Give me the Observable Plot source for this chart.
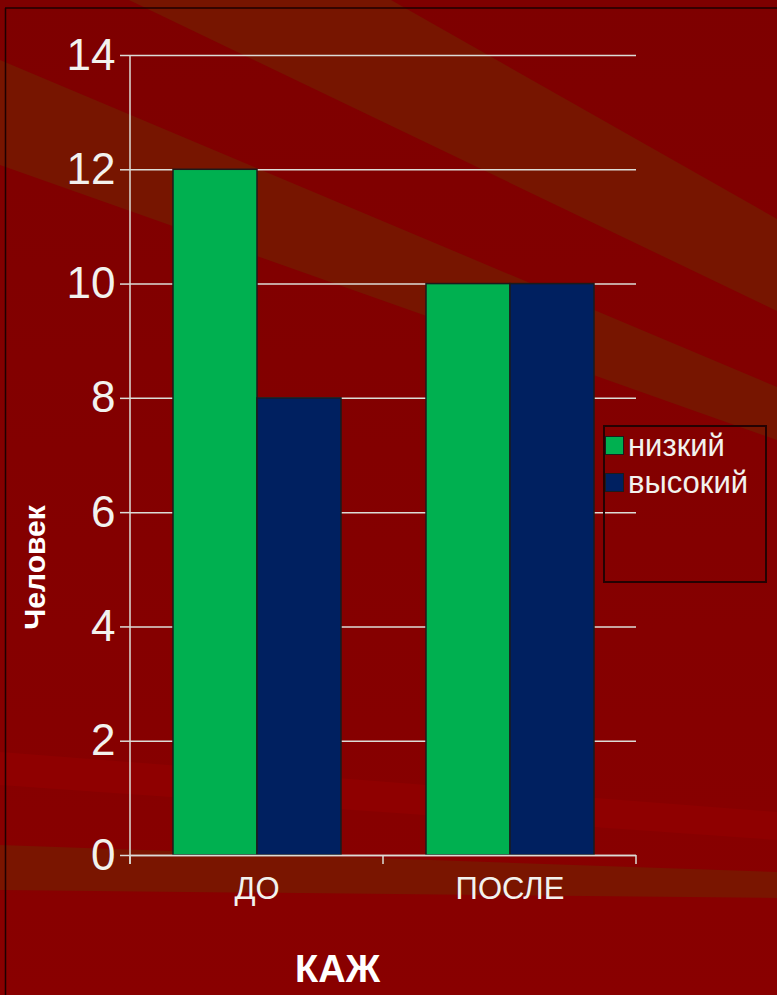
<!DOCTYPE html>
<html>
<head>
<meta charset="utf-8">
<script src="https://cdn.jsdelivr.net/npm/d3@7"></script>
<script src="https://cdn.jsdelivr.net/npm/@observablehq/plot@0.6"></script>
<style>
  html, body { margin: 0; padding: 0; background: #840000; }
  #slide { position: relative; width: 777px; height: 995px; overflow: hidden;
           font-family: "Liberation Sans", Arial, sans-serif; }
  #bg, #chart { position: absolute; left: 0; top: 0; }
  #legend { position: absolute; left: 603px; top: 425px; width: 164px; height: 158px;
            box-sizing: border-box; border: 2px solid #240202; color: #f2f2ee;
            font-size: 31px; }
  #legend .item { display: flex; align-items: center; height: 37px; white-space: nowrap; }
  #legend .sw { width: 17px; height: 17px; border: 1.5px solid #1c1c1c; margin-right: 4px; flex: none; }
</style>
</head>
<body>
<div id="slide">
  <svg id="bg" width="777" height="995" viewBox="0 0 777 995">
    <defs>
      <linearGradient id="base" x1="0" y1="0" x2="0" y2="1">
        <stop offset="0" stop-color="#7e0000"/>
        <stop offset="1" stop-color="#890000"/>
      </linearGradient>
    </defs>
    <rect width="777" height="995" fill="url(#base)"/>
    <!-- light diagonal rays of the slide background -->
    <polygon points="129,0 391,0 777,219 777,311" fill="#771500"/>
    <polygon points="0,60 777,387 777,440 0,165" fill="#771500"/>
    <polygon points="0,752 777,812 777,840 0,785" fill="#8f0000"/>
    <polygon points="0,845 777,872 777,898 0,890" fill="#7a1500"/>
    <!-- slide frame -->
    <line x1="5" y1="8" x2="777" y2="8" stroke="#1e0000" stroke-width="1.5"/>
    <line x1="5.5" y1="8" x2="5.5" y2="995" stroke="#1e0000" stroke-width="1.5"/>
  </svg>
  <div id="chart"></div>
  <div id="legend"></div>
</div>
<script>
// Number of people by level, before and after
const categories = ["ДО", "ПОСЛЕ"];
const series = ["низкий", "высокий"];
const seriesColors = ["#00b050", "#002060"];
const lowValues = [12, 10];
const highValues = [8, 10];
const yTicks = [0, 2, 4, 6, 8, 10, 12, 14];
const yTitle = "Человек";
const xTitle = "КАЖ";

const rows = categories.flatMap((cat, i) => [
  {cat, series: series[0], value: lowValues[i]},
  {cat, series: series[1], value: highValues[i]}
]);

const textColor = "#f2f2ee";
const lineColor = "#dcdcd6";

// y axis line plus the short category separators under the baseline
function withAxisFrame(index, scales, values, dimensions, context, next) {
  const g = next(index, scales, values, dimensions, context);
  const {fx, y} = scales;
  const y0 = y(0), yTop = y(d3.max(yTicks));
  let edges;
  if (fx && fx.bandwidth) {
    edges = categories.map(c => fx(c)).concat(fx(categories[categories.length - 1]) + fx.bandwidth());
  } else {
    const {width, marginLeft, marginRight} = dimensions;
    const step = (width - marginLeft - marginRight) / categories.length;
    edges = d3.range(categories.length + 1).map(i => marginLeft + i * step);
  }
  const wrap = d3.create("svg:g");
  wrap.append(() => g);
  const lines = wrap.append("g").attr("stroke", lineColor).attr("stroke-width", 1.5);
  lines.append("line").attr("x1", edges[0]).attr("x2", edges[0])
    .attr("y1", yTop).attr("y2", y0 + 9);
  for (const e of edges) {
    lines.append("line").attr("x1", e).attr("x2", e)
      .attr("y1", y0).attr("y2", y0 + 9);
  }
  return wrap.node();
}

const chart = Plot.plot({
  width: 777,
  height: 995,
  marginLeft: 130,
  marginRight: 141,
  marginTop: 55,
  marginBottom: 140,
  style: {background: "transparent", fontFamily: "'Liberation Sans', Arial, sans-serif", color: textColor},
  fx: {domain: categories, padding: 0},
  x: {domain: series, paddingInner: 0, paddingOuter: 0.5, axis: null},
  y: {domain: [0, 14]},
  color: {domain: series, range: seriesColors},
  marks: [
    Plot.gridY(yTicks, {stroke: lineColor, strokeOpacity: 1, strokeWidth: 1.5}),
    Plot.barY(rows, {fx: "cat", x: "series", y: "value", fill: "series",
                     stroke: "#1b1b1b", strokeWidth: 1.5}),
    Plot.ruleY([0], {stroke: lineColor, strokeWidth: 1.5}),
    Plot.axisY({ticks: yTicks, tickSize: 10, tickPadding: 5, fontSize: 44, label: null,
                stroke: lineColor, strokeWidth: 1.5, fill: textColor}),
    Plot.axisFx({anchor: "bottom", tickSize: 0, tickPadding: 21, fontSize: 31, label: null,
                 fill: textColor}),
    Plot.text([yTitle], {facet: "super", frameAnchor: "left", textAnchor: "middle",
                         dx: -95, dy: 112, rotate: -90,
                         fontSize: 30, fontWeight: "bold", fill: "#ffffff"}),
    Plot.text([xTitle], {facet: "super", frameAnchor: "bottom", dx: -46, dy: 126,
                         fontSize: 38, fontWeight: "bold", fill: "#ffffff",
                         fontFamily: "'Liberation Sans Narrow', 'Liberation Sans', Arial, sans-serif",
                         render: withAxisFrame})
  ]
});
document.getElementById("chart").append(chart);

// legend box inside the chart area
const legend = d3.select("#legend");
series.forEach((s, i) => {
  const item = legend.append("div").attr("class", "item");
  item.append("span").attr("class", "sw").style("background", seriesColors[i]);
  item.append("span").text(s);
});
</script>
</body>
</html>
